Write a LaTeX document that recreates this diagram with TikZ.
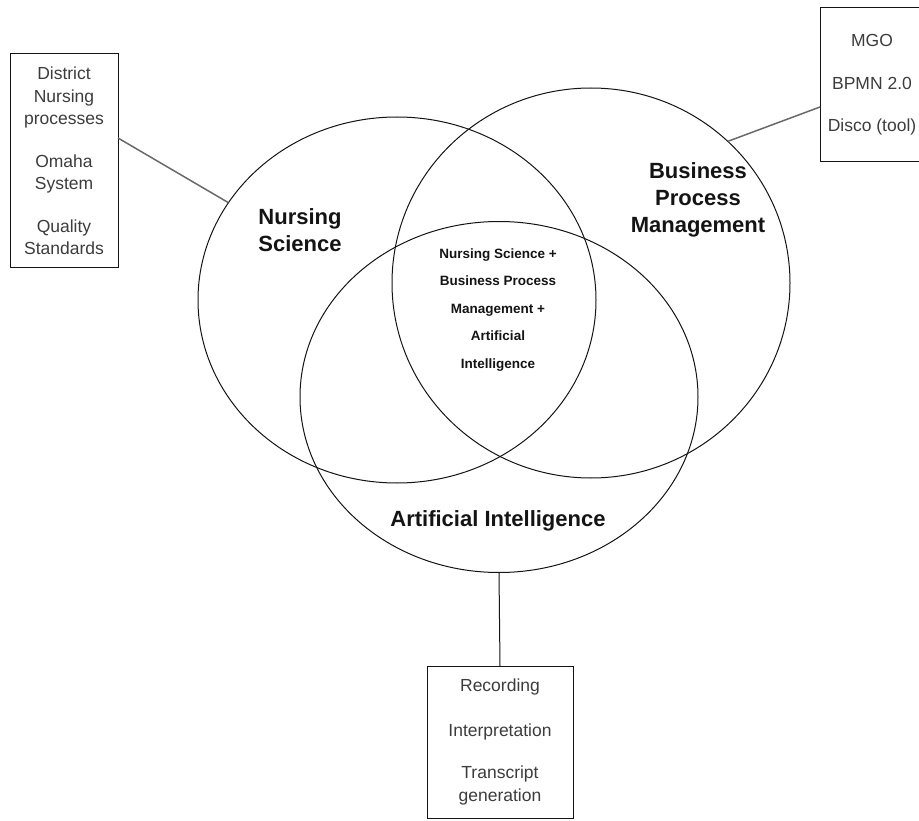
\documentclass[tikz,border=0pt]{standalone}
\usepackage{fontspec}
\setmainfont{Liberation Sans}
\usetikzlibrary{shapes.geometric}
\definecolor{ink}{RGB}{20,20,20}
\definecolor{listtext}{RGB}{60,60,60}
\definecolor{wire}{RGB}{105,105,105}
\tikzset{
  every picture/.style={x=1pt, y=-1pt, line width=1pt, color=ink},
  ring/.style={ellipse, draw=ink, inner sep=0pt, outer sep=0pt},
  topic/.style={font=\fontsize{22}{27}\selectfont\bfseries, align=center, text=ink},
  core/.style={font=\fontsize{13.5}{27.5}\selectfont\bfseries, align=center, text=ink},
  list/.style={draw=ink, rectangle, inner sep=0pt, outer sep=0pt, align=center, text=listtext, font=\fontsize{17.5}{22.5}\selectfont},
  link/.style={draw=wire, line width=1.5pt},
  stem/.style={draw=ink, line width=1pt},
}
\begin{document}
\begin{tikzpicture}
  \useasboundingbox (0,0) rectangle (919,821);
  % the three fields
  \node[ring, minimum width=398pt, minimum height=366pt] (ns) at (397,300) {};
  \node[ring, minimum width=398pt, minimum height=390pt] (bpm) at (591,283) {};
  \node[ring, minimum width=398pt, minimum height=351pt] (ai) at (499,397) {};
  \node[topic] (nslbl) at (300,230) {Nursing\\Science};
  \node[topic] (bpmlbl) at (698,200) {Business\\Process\\Management};
  \node[topic] (ailbl) at (498,521) {Artificial Intelligence};
  \node[core] (all) at (498,310) {Nursing Science +\\Business Process\\Management +\\Artificial\\Intelligence};
  % what each field brings
  \node[list, minimum width=108pt, minimum height=214pt] (nsbox) at (64,161)
    {District\\Nursing\\processes\\[20pt]Omaha\\System\\[20pt]Quality\\Standards};
  \node[list, minimum width=104pt, minimum height=154pt] (bpmbox) at (872,85)
    {MGO\\[20pt]BPMN 2.0\\[20pt]Disco (tool)};
  \node[list, minimum width=146pt, minimum height=152pt] (aibox) at (500,742)
    {Recording\\[22pt]Interpretation\\[20pt]Transcript\\generation};
  \draw[link] ([yshift=23pt]nsbox.east) -- (ns.150);
  \draw[link] ([yshift=-22pt]bpmbox.west) -- (bpm.46);
  \draw[stem] (aibox.north) -- (ai.south);
\end{tikzpicture}
\end{document}
